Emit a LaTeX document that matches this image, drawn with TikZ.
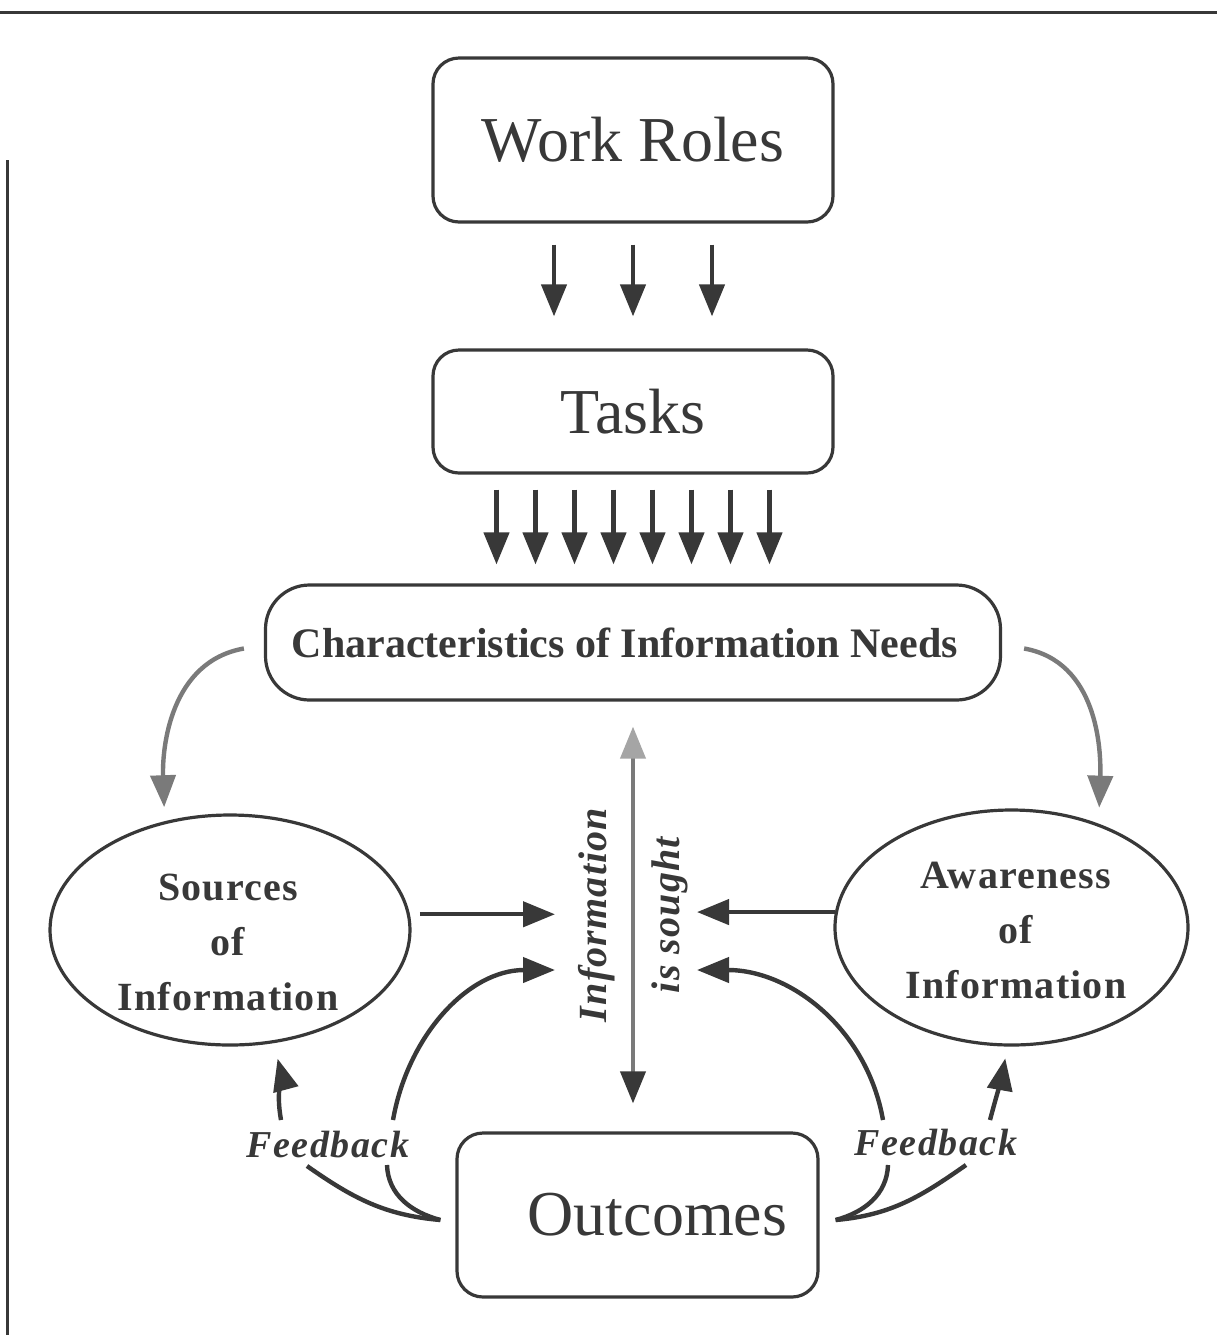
\documentclass[tikz,border=0pt]{standalone}
\usepackage{fontspec}
\setmainfont{Liberation Serif}
\newfontfamily\spacedfont[LetterSpace=3]{Liberation Serif}
\newfontfamily\fbfont[LetterSpace=4]{Liberation Serif}
\usetikzlibrary{arrows.meta,shapes.geometric,calc}
\definecolor{ink}{HTML}{383838}
\definecolor{softink}{HTML}{7A7A7A}
\definecolor{lightink}{HTML}{A5A5A5}
\begin{document}
\begin{tikzpicture}[x=0.5pt,y=0.5pt,
  tipst/.style={-{Triangle[length=16pt,width=12.5pt]}},
  arr/.style={draw=ink,line width=2.2pt,tipst},
  garr/.style={draw=softink,line width=2.2pt,-{Triangle[length=16pt,width=12.5pt,color=softink]}},
  plainline/.style={draw=ink,line width=2.2pt},
  box/.style={draw=ink,line width=1.6pt,rounded corners=13pt,inner sep=0pt,text=ink,
    font=\fontsize{32}{38}\selectfont},
  oval/.style={ellipse,draw=ink,line width=1.6pt,inner sep=0pt},
  ovaltext/.style={align=center,text=ink,inner sep=0pt,
    font=\spacedfont\bfseries\fontsize{20}{27.5}\selectfont},
  fb/.style={text=ink,font=\fbfont\bfseries\itshape\fontsize{19}{22}\selectfont,inner sep=1pt},
  vtext/.style={rotate=90,text=ink,inner sep=0pt,font=\spacedfont\bfseries\itshape\fontsize{20}{24}\selectfont}
]
\useasboundingbox (0,0) rectangle (1217,-1335);
% scan border lines
\draw[ink,line width=1.5pt] (0,-12) -- (1217,-12);
\draw[ink,line width=1.5pt] (7,-160) -- (7,-1335);

% boxes
\node[box,minimum width=200pt,minimum height=82pt] (wr) at (633,-140) {Work Roles};
\node[box,minimum width=200pt,minimum height=61.5pt] (tk) at (633,-411.5) {Tasks};
\node[box,rounded corners=22pt,minimum width=367.5pt,minimum height=57.5pt,
  font=\bfseries\fontsize{21}{25}\selectfont] (cn) at (633,-642.5) {\hspace*{-8pt}Characteristics of Information Needs};
\node[box,minimum width=180.5pt,minimum height=82pt] (oc) at (637.5,-1215) {\hspace*{20pt}Outcomes};
\node[oval,minimum width=180pt,minimum height=115pt] (so) at (230,-930) {};
\node[oval,minimum width=176.5pt,minimum height=117.5pt] (aw) at (1011.5,-927.5) {};
\node[ovaltext] (sotx) at (228,-942) {Sources\\of\\Information};
\node[ovaltext] (awtx) at (1016,-930) {Awareness\\of\\Information};

% vertical labels
\node[vtext] (t1) at (597,-915) {Information};
\node[vtext] (t2) at (670,-915) {is sought};

% feedback labels
\node[fb] (fbL) at (328,-1145) {Feedback};
\node[fb] (fbR) at (936,-1143) {Feedback};

% arrows work roles -> tasks
\foreach \d in {-39.5,0,39.5}
  \draw[arr,shorten <=10.5pt,shorten >=16pt] ($(wr.south)+(\d pt,0)$) -- ($(tk.north)+(\d pt,0)$);
% arrows tasks -> characteristics
\foreach \d in {-68.25,-48.75,-29.25,-9.75,9.75,29.25,48.75,68.25}
  \draw[arr,shorten <=7.5pt,shorten >=9.5pt] ($(tk.south)+(\d pt,0)$) -- ($(cn.north)+(\d pt,0)$);

% central double arrow
\draw[draw=softink,line width=2pt,
  {Triangle[length=16pt,width=12.5pt,color=lightink]}-{Triangle[length=16pt,width=12.5pt,color=ink]},
  shorten <=12.5pt,shorten >=14pt] (cn.south) -- (cn.south |- oc.north);

% gray curved arrows from characteristics
\coordinate (cnLs) at ($(cn.west)+(-10pt,-3pt)$);
\coordinate (cnRs) at ($(cn.east)+(11pt,-3pt)$);
\draw[garr,shorten >=7pt] (cnLs) to[out=190,in=92] (so.121);
\draw[garr,shorten >=8pt] (cnRs) to[out=-10,in=88] (aw.50);

% arrows into the centre
\coordinate (inL1) at (555,-916);
\coordinate (inL2) at (555,-970);
\coordinate (inR1) at (697,-916);
\coordinate (inR2) at (697,-970);
\draw[arr,shorten <=5pt] (so.5) -- (so.5 -| inL1);
\draw[arr] (aw.175) -- (aw.175 -| inR1);

% curved arrows from outcomes area up to centre
\coordinate (fbLs) at (393,-1120);
\coordinate (fbRs) at (883,-1120);
\draw[arr] (fbLs) to[out=80,in=180] (inL2);
\draw[arr] (fbRs) to[out=100,in=0] (inR2);

% feedback arrows up to ellipses
\coordinate (fbLu) at (281,-1120);
\coordinate (fbRu) at (990,-1120);
\draw[arr,shorten >=8pt] (fbLu) to[out=100,in=-75] (so.-69);
\draw[arr,shorten >=6pt] (fbRu) to[out=75,in=-100] (aw.-92);

% feedback lines from outcomes
\coordinate (ocL) at ($(oc.west)+(-7.5pt,-2.5pt)$);
\coordinate (ocR) at ($(oc.east)+(8pt,-2.5pt)$);
\coordinate (fbL1) at (307,-1166);
\coordinate (fbL2) at (387,-1165);
\coordinate (fbR1) at (888,-1165);
\coordinate (fbR2) at (966,-1165);
\draw[plainline] (fbL1) to[out=-35,in=175] (ocL);
\draw[plainline] (fbL2) to[out=-88,in=165] (ocL);
\draw[plainline] (fbR1) to[out=-92,in=15] (ocR);
\draw[plainline] (fbR2) to[out=-145,in=5] (ocR);
\end{tikzpicture}
\end{document}
